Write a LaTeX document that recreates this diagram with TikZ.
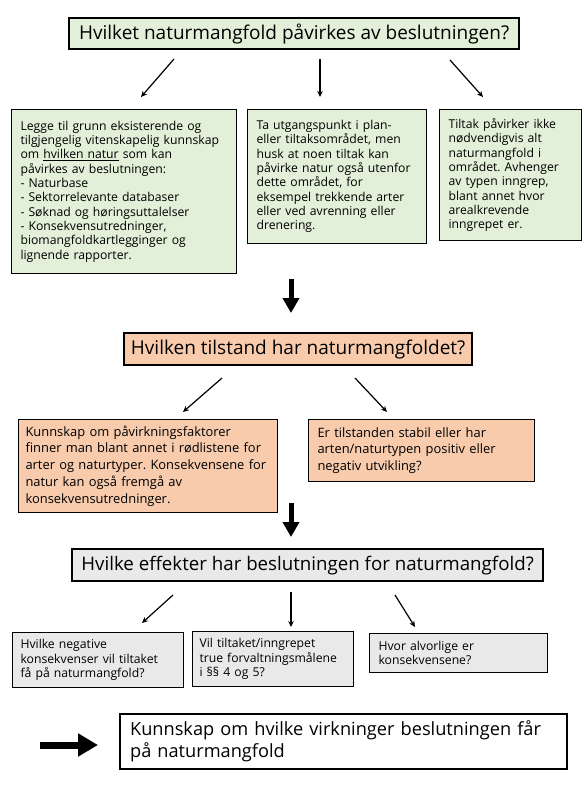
\documentclass[tikz,border=0pt]{standalone}
\usepackage{fontspec}
\setmainfont{Open Sans}
\usetikzlibrary{arrows.meta}
\definecolor{grn}{HTML}{E2EFD9}
\definecolor{pch}{HTML}{F8CBAD}
\definecolor{gry}{HTML}{E9E9E9}
\frenchspacing
\begin{document}
\begin{tikzpicture}[x=1pt,y=-1pt,
  titlebox/.style={draw=black, line width=2.2pt, anchor=north west, inner sep=0pt, align=center},
  txtbox/.style={draw=black, line width=1.1pt, anchor=north west, inner xsep=9pt, inner ysep=0pt, align=left},
  thinarrow/.style={line width=1.2pt, -{Stealth[length=6pt,width=5.5pt]}},
  bigarrow/.style={line width=5pt, -{Triangle[length=15pt,width=16pt]}},
  fs/.style={font=\fontsize{12.2}{14.3}\selectfont},
  fm/.style={font=\fontsize{12.9}{16.8}\selectfont}
]
\useasboundingbox (0,0) rectangle (584,795);
\fill[white] (0,0) rectangle (584,795);

% level 1
\node[titlebox, fill=grn, font=\fontsize{19}{22}\selectfont, minimum width=450pt, minimum height=31pt] (t1) at (68,17) {Hvilket naturmangfold påvirkes av beslutningen?};
\node[txtbox, fill=grn, fs, text width=207pt, minimum height=164pt] (a) at (11,109) {Legge til grunn eksisterende og\\tilgjengelig vitenskapelig kunnskap\\om \underline{hvilken natur} som kan\\påvirkes av beslutningen:\\- Naturbase\\- Sektorrelevante databaser\\- Søknad og høringsuttalelser\\- Konsekvensutredninger,\\biomangfoldkartlegginger og\\lignende rapporter.};
\node[txtbox, fill=grn, fs, text width=161pt, minimum height=134pt] (b) at (247,109) {Ta utgangspunkt i plan-\\eller tiltaksområdet, men\\husk at noen tiltak kan\\påvirke natur også utenfor\\dette området, for\\eksempel trekkende arter\\eller ved avrenning eller\\drenering.};
\node[txtbox, fill=grn, fs, text width=124pt, minimum height=131pt] (c) at (439,109) {Tiltak påvirker ikke\\nødvendigvis alt\\naturmangfold i\\området. Avhenger\\av typen inngrep,\\blant annet hvor\\arealkrevende\\inngrepet er.};

\coordinate (p1s) at (174,59); \coordinate (p1e) at (141,97);
\coordinate (p2s) at (320,59); \coordinate (p2e) at (320,97);
\coordinate (p3s) at (450,60); \coordinate (p3e) at (483,97);
\draw[thinarrow] (p1s) -- (p1e);
\draw[thinarrow] (p2s) -- (p2e);
\draw[thinarrow] (p3s) -- (p3e);

\coordinate (b1s) at (291,279); \coordinate (b1e) at (291,313);
\draw[bigarrow] (b1s) -- (b1e);

% level 2
\node[titlebox, fill=pch, font=\fontsize{19}{22}\selectfont, minimum width=348pt, minimum height=32pt] (t2) at (123,332) {Hvilken tilstand har naturmangfoldet?};
\node[txtbox, fill=pch, fm, inner xsep=7pt, text width=245pt, minimum height=93pt] (d) at (18,419) {Kunnskap om påvirkningsfaktorer\\finner man blant annet i rødlistene for\\arter og naturtyper. Konsekvensene for\\natur kan også fremgå av\\konsekvensutredninger.};
\node[txtbox, fill=pch, fm, text width=208pt, minimum height=62pt] (e) at (308,419) {Er tilstanden stabil eller har\\arten/naturtypen positiv eller\\negativ utvikling?};

\coordinate (q1s) at (222,378); \coordinate (q1e) at (183,412);
\coordinate (q2s) at (355,378); \coordinate (q2e) at (387,412);
\draw[thinarrow] (q1s) -- (q1e);
\draw[thinarrow] (q2s) -- (q2e);

\coordinate (b2s) at (291,503); \coordinate (b2e) at (291,537);
\draw[bigarrow] (b2s) -- (b2e);

% level 3
\node[titlebox, fill=gry, font=\fontsize{18.7}{22}\selectfont, minimum width=471pt, minimum height=32pt] (t3) at (71,548) {Hvilke effekter har beslutningen for naturmangfold?};
\node[txtbox, fill=gry, fs, inner xsep=8pt, text width=155pt, minimum height=55pt] (f) at (12,632) {Hvilke negative\\konsekvenser vil tiltaket\\få på naturmangfold?};
\node[txtbox, fill=gry, fs, inner xsep=7pt, text width=147pt, minimum height=55pt] (g) at (192,631) {Vil tiltaket/inngrepet\\true forvaltningsmålene\\i §§ 4 og 5?};
\node[txtbox, fill=gry, fs, text width=160pt, minimum height=39pt] (h) at (369,633) {Hvor alvorlige er\\konsekvensene?};

\coordinate (r1s) at (173,595); \coordinate (r1e) at (142,623);
\coordinate (r2s) at (291,592); \coordinate (r2e) at (291,627);
\coordinate (r3s) at (395,595); \coordinate (r3e) at (415,627);
\draw[thinarrow] (r1s) -- (r1e);
\draw[thinarrow] (r2s) -- (r2e);
\draw[thinarrow] (r3s) -- (r3e);

% result
\node[titlebox, fill=white, align=left, inner xsep=10pt, text width=427pt, minimum height=55pt, font=\fontsize{18.2}{22}\selectfont] (res) at (119,713) {Kunnskap om hvilke virkninger beslutningen får\\på naturmangfold};
\coordinate (ras) at (40,745); \coordinate (rae) at (98,745);
\draw[line width=7pt, -{Triangle[length=20pt,width=22pt]}] (ras) -- (rae);
\end{tikzpicture}
\end{document}
